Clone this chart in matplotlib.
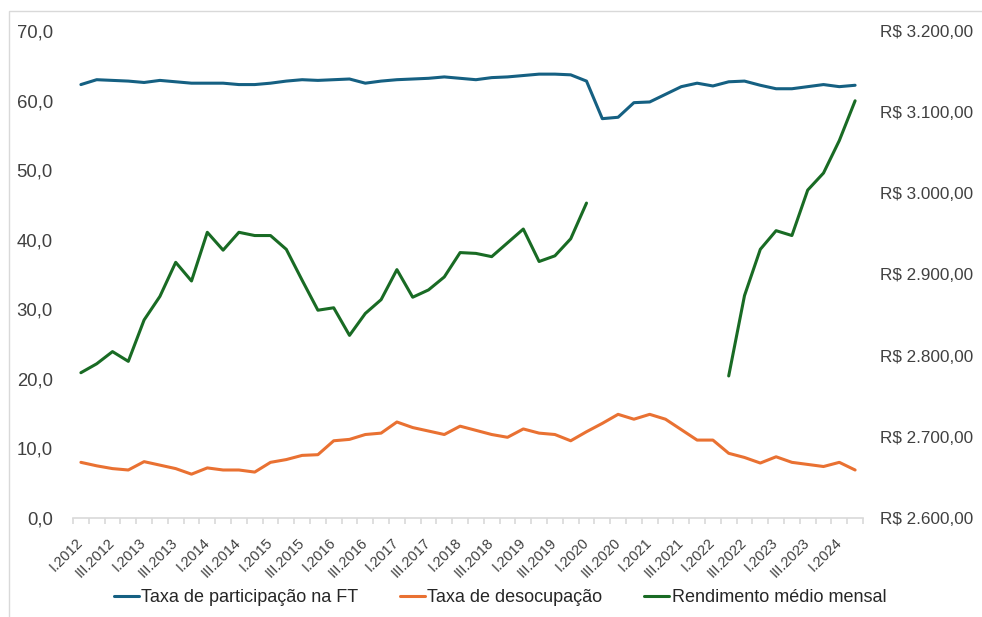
import numpy as np
import matplotlib
matplotlib.use("Agg")
import matplotlib.pyplot as plt
from matplotlib import font_manager
from matplotlib.patches import Rectangle
from matplotlib.ticker import FuncFormatter, FixedLocator

names = {f.name for f in font_manager.fontManager.ttflist}
BASE = "Liberation Sans" if "Liberation Sans" in names else "DejaVu Sans"
plt.rcParams["font.family"] = [BASE, "DejaVu Sans"]

roman = ["I", "II", "III", "IV"]
quarters = [f"{roman[i % 4]}.{2012 + i // 4}" for i in range(50)]

participacao = [62.3, 63.0, 62.9, 62.8, 62.6, 62.9, 62.7, 62.5, 62.5, 62.5,
                62.3, 62.3, 62.5, 62.8, 63.0, 62.9, 63.0, 63.1, 62.5, 62.8,
                63.0, 63.1, 63.2, 63.4, 63.2, 63.0, 63.3, 63.4, 63.6, 63.8,
                63.8, 63.7, 62.8, 57.4, 57.6, 59.7, 59.8, 60.9, 62.0, 62.5,
                62.1, 62.7, 62.8, 62.2, 61.7, 61.7, 62.0, 62.3, 62.0, 62.2]

desocupacao = [8.0, 7.5, 7.1, 6.9, 8.1, 7.6, 7.1, 6.3, 7.2, 6.9,
               6.9, 6.6, 8.0, 8.4, 9.0, 9.1, 11.1, 11.3, 12.0, 12.2,
               13.8, 13.0, 12.5, 12.0, 13.2, 12.6, 12.0, 11.6, 12.8, 12.2,
               12.0, 11.1, 12.4, 13.6, 14.9, 14.2, 14.9, 14.2, 12.7, 11.2,
               11.2, 9.3, 8.7, 7.9, 8.8, 8.0, 7.7, 7.4, 8.0, 6.9]

rendimento = [2779, 2790, 2805, 2793, 2844, 2873, 2915, 2892, 2952, 2930,
              2952, 2948, 2948, 2931, 2893, 2856, 2859, 2825, 2852, 2869,
              2906, 2872, 2881, 2897, 2927, 2926, 2922, 2939, 2956, 2916,
              2923, 2944, 2988, np.nan, np.nan, np.nan, np.nan, np.nan, np.nan, np.nan,
              np.nan, 2775, 2874, 2931, 2954, 2948, 3004, 3025, 3065, 3114]

series_names = ["Taxa de participação na FT", "Taxa de desocupação", "Rendimento médio mensal"]
colors = ["#156082", "#E97132", "#196B24"]

W, H = 982, 617
fig = plt.figure(figsize=(W / 100, H / 100), dpi=100)
fig.patches.append(Rectangle((9 / W, -0.05), 1.2, 1 - 11 / H + 0.05, transform=fig.transFigure,
                             fill=False, edgecolor="#D9D9D9", linewidth=1))

ax = fig.add_axes([73 / W, 1 - 518 / H, (863 - 73) / W, (518 - 31) / H])
ax2 = ax.twinx()

x = np.arange(len(quarters))
l1, = ax.plot(x, participacao, color=colors[0], lw=2.2, solid_joinstyle="round", solid_capstyle="round")
l2, = ax.plot(x, desocupacao, color=colors[1], lw=2.2, solid_joinstyle="round", solid_capstyle="round")
l3, = ax2.plot(x, rendimento, color=colors[2], lw=2.2, solid_joinstyle="round", solid_capstyle="round")

ax.set_xlim(-0.5, len(quarters) - 0.5)
ax.set_ylim(0, 70)
ax.set_yticks(np.arange(0, 71, 10))
ax.yaxis.set_major_formatter(FuncFormatter(lambda v, p: f"{v:.1f}".replace(".", ",")))
ax2.set_ylim(2600, 3200)
ax2.set_yticks(np.arange(2600, 3201, 100))
ax2.yaxis.set_major_formatter(FuncFormatter(
    lambda v, p: "R$ " + f"{v:,.2f}".replace(",", "X").replace(".", ",").replace("X", ".")))

for a in (ax, ax2):
    for s in a.spines.values():
        s.set_visible(False)
ax.spines["bottom"].set_visible(True)
ax.spines["bottom"].set_color("#D9D9D9")
ax.spines["bottom"].set_linewidth(1.2)

ax.tick_params(axis="y", length=0, labelsize=13.3, pad=14.5, labelcolor="#404040")
ax2.tick_params(axis="y", length=0, labelsize=12.3, pad=12, labelcolor="#404040")

ax.xaxis.set_major_locator(FixedLocator(x[::2]))
ax.set_xticklabels(quarters[::2], rotation=45, ha="right", va="center", rotation_mode="anchor",
                   fontsize=10.5, color="#404040")
ax.xaxis.set_minor_locator(FixedLocator(np.arange(-0.5, len(quarters), 1)))
ax.tick_params(axis="x", which="major", length=0, pad=16)
ax.tick_params(axis="x", which="minor", length=4, color="#D9D9D9", width=1.2)

fig.legend([l1, l2, l3], series_names, loc="center", bbox_to_anchor=(500 / W, 1 - 598 / H),
           ncol=3, frameon=False, fontsize=13, handlelength=1.4, handletextpad=0.12,
           columnspacing=2.3, labelcolor="#262626")

fig.savefig("out.png", dpi=100)
